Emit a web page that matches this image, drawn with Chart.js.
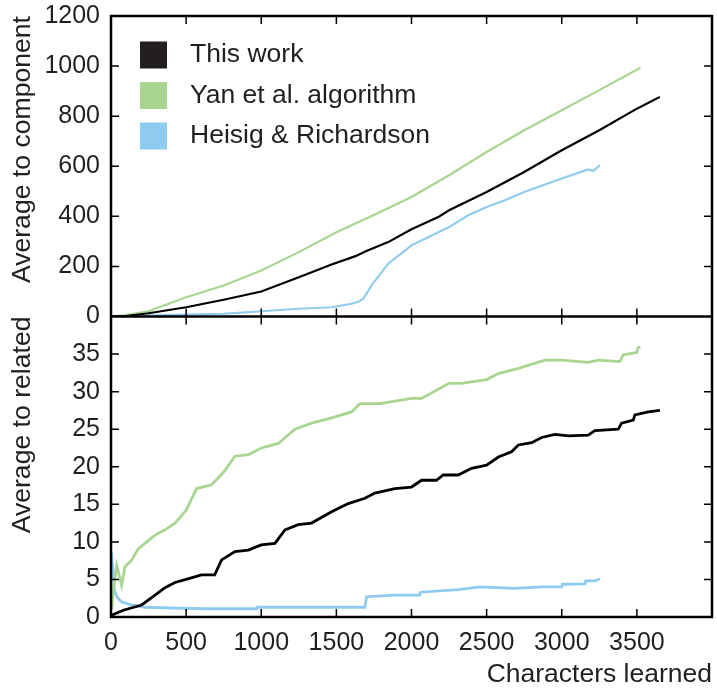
<!DOCTYPE html>
<html>
<head>
<meta charset="utf-8">
<script src="https://cdn.jsdelivr.net/npm/chart.js@4"></script>
<style>
  body { margin: 0; background: #fff; }
</style>
</head>
<body>
<canvas id="chartChars" width="717" height="688"></canvas>
<script>
const seriesNames = ['This work', 'Yan et al. algorithm', 'Heisig & Richardson'];
const seriesColors = ['#000000', '#a8d590', '#8ecbef'];
const legendColors = ['#231f20', '#a8d590', '#8ecbef'];

const xTicks = [0, 500, 1000, 1500, 2000, 2500, 3000, 3500];
const compTicks = [0, 200, 400, 600, 800, 1000, 1200];
const relTicks = [0, 5, 10, 15, 20, 25, 30, 35];

// top panel: average to component
const compWorkX = [0, 100, 250, 500, 750, 1000, 1250, 1468, 1623, 1700, 1845, 2000, 2178, 2250, 2500, 2750, 3000, 3250, 3500, 3653];
const compWorkY = [0, 2, 13, 37, 67, 100, 157, 208, 240, 262, 297, 348, 397, 424, 497, 577, 664, 744, 830, 877];

const compYanX = [0, 100, 250, 500, 750, 1000, 1250, 1500, 1750, 2000, 2250, 2500, 2750, 3000, 3250, 3524];
const compYanY = [0, 6, 21, 77, 124, 184, 257, 336, 405, 477, 564, 657, 744, 824, 904, 993];

const compHeisigX = [0, 250, 500, 750, 1000, 1250, 1468, 1601, 1650, 1680, 1734, 1845, 2000, 2250, 2377, 2500, 2621, 2750, 3000, 3176, 3209, 3254];
const compHeisigY = [0, 4, 8, 11, 21, 31, 37, 51, 60, 72, 124, 211, 284, 357, 404, 437, 464, 497, 551, 587, 581, 604];

// bottom panel: average to related
const relWorkX = [0, 82, 204, 293, 359, 426, 500, 602, 690, 736, 825, 914, 1000, 1091, 1158, 1246, 1335, 1468, 1579, 1690, 1756, 1889, 2000, 2067, 2166, 2211, 2311, 2400, 2500, 2578, 2666, 2711, 2800, 2866, 2955, 3044, 3176, 3221, 3376, 3398, 3476, 3487, 3576, 3653];
const relWorkY = [0.2, 0.9, 1.6, 2.9, 3.9, 4.6, 5.0, 5.6, 5.6, 7.6, 8.7, 8.9, 9.6, 9.8, 11.6, 12.3, 12.5, 14.0, 15.1, 15.8, 16.5, 17.1, 17.3, 18.2, 18.2, 18.9, 18.9, 19.8, 20.2, 21.3, 22.0, 22.9, 23.2, 23.9, 24.3, 24.1, 24.2, 24.8, 25.0, 25.8, 26.2, 26.9, 27.3, 27.5];

const relYanX = [5, 15, 38, 71, 93, 138, 182, 226, 293, 359, 426, 500, 570, 670, 750, 825, 914, 1000, 1113, 1224, 1335, 1468, 1601, 1657, 1790, 2000, 2067, 2250, 2333, 2500, 2578, 2711, 2888, 3000, 3176, 3243, 3387, 3409, 3498, 3509, 3524];
const relYanY = [1.0, 3.6, 6.9, 4.2, 6.7, 7.6, 9.1, 9.8, 10.9, 11.6, 12.5, 14.2, 17.1, 17.6, 19.3, 21.4, 21.6, 22.5, 23.1, 25.0, 25.8, 26.5, 27.3, 28.4, 28.4, 29.1, 29.1, 31.1, 31.1, 31.6, 32.4, 33.1, 34.2, 34.2, 33.9, 34.2, 34.0, 34.9, 35.2, 35.9, 35.9];

const relHeisigX = [3, 22, 38, 71, 138, 226, 404, 626, 970, 975, 1291, 1690, 1701, 1889, 2055, 2060, 2311, 2455, 2688, 2866, 3000, 3005, 3154, 3160, 3221, 3254];
const relHeisigY = [8.7, 3.6, 2.7, 2.0, 1.6, 1.3, 1.2, 1.1, 1.1, 1.3, 1.3, 1.3, 2.7, 2.9, 2.9, 3.3, 3.65, 4.0, 3.8, 4.0, 4.0, 4.36, 4.4, 4.8, 4.8, 5.1];

const FONT = '"Liberation Sans", Arial, sans-serif';
const INK = '#231f20';
const TICK = 8;

function pts(xs, ys) {
  return xs.map((x, i) => ({ x: x, y: ys[i] }));
}

function line(i, xs, ys, axis, width) {
  return {
    label: seriesNames[i],
    data: pts(xs, ys),
    yAxisID: axis,
    borderColor: seriesColors[i],
    borderWidth: width,
    pointRadius: 0,
    tension: 0,
    fill: false
  };
}

function yAxis(ticks, max, title) {
  return {
    type: 'linear',
    position: 'left',
    stack: 'panels',
    stackWeight: 1,
    min: 0,
    max: max,
    afterBuildTicks: s => { s.ticks = ticks.concat(ticks.includes(max) ? [] : [max]).map(v => ({ value: v })); },
    grid: { display: false, drawTicks: false },
    border: { display: false },
    ticks: {
      color: INK,
      font: { family: FONT, size: 25 },
      padding: 11,
      autoSkip: false,
      callback: v => (ticks.includes(v) ? String(v) : '')
    },
    title: {
      display: true,
      text: title,
      align: 'end',
      color: INK,
      font: { family: FONT, size: 26.6, lineHeight: 1 },
      padding: { top: 9.5, bottom: 0 }
    },
    afterFit: s => {
      s.width = 111;
      s.paddingTop = 0;
      s.paddingBottom = 0;
    }
  };
}

// frame, inward ticks on all sides and the legend box
const framePlugin = {
  id: 'frame',
  afterDatasetsDraw(chart) {
    const { ctx, chartArea: a, scales } = chart;
    const yt = scales.y, yb = scales.y2, x = scales.x;
    const mid = yt.bottom;
    ctx.save();
    ctx.strokeStyle = '#000';
    ctx.lineWidth = 1.5;
    ctx.beginPath();
    x.ticks.forEach(t => {
      const px = x.getPixelForValue(t.value);
      if (px <= a.left + 1 || px >= a.right - 1) return;
      ctx.moveTo(px, a.top); ctx.lineTo(px, a.top + TICK);
      ctx.moveTo(px, mid - TICK); ctx.lineTo(px, mid + TICK);
      ctx.moveTo(px, a.bottom); ctx.lineTo(px, a.bottom - TICK);
    });
    [yt, yb].forEach(s => s.ticks.forEach(t => {
      const py = s.getPixelForValue(t.value);
      if (py <= s.top + 1 || py >= s.bottom - 1) return;
      ctx.moveTo(a.left, py); ctx.lineTo(a.left + TICK, py);
      ctx.moveTo(a.right, py); ctx.lineTo(a.right - TICK, py);
    }));
    ctx.stroke();

    ctx.lineWidth = 2.5;
    ctx.strokeRect(a.left, a.top, a.right - a.left, a.bottom - a.top);
    ctx.beginPath();
    ctx.moveTo(a.left, mid);
    ctx.lineTo(a.right, mid);
    ctx.stroke();

    // legend
    ctx.font = '26.5px ' + FONT;
    ctx.textBaseline = 'middle';
    ctx.textAlign = 'left';
    for (let i = 0; i < 3; i++) {
      const cy = a.top + 39 + i * 40.5;
      ctx.fillStyle = legendColors[i];
      ctx.fillRect(a.left + 29, cy - 13.5, 27, 27);
      ctx.fillStyle = INK;
      ctx.fillText(chart.data.datasets[i].label, a.left + 79, cy);
    }
    ctx.restore();
  }
};

new Chart(document.getElementById('chartChars'), {
  type: 'line',
  data: {
    datasets: [
      line(0, compWorkX, compWorkY, 'y', 2.2),
      line(1, compYanX, compYanY, 'y', 2.2),
      line(2, compHeisigX, compHeisigY, 'y', 2.2),
      line(0, relWorkX, relWorkY, 'y2', 2.8),
      line(1, relYanX, relYanY, 'y2', 2.8),
      line(2, relHeisigX, relHeisigY, 'y2', 2.8)
    ]
  },
  options: {
    responsive: false,
    animation: false,
    devicePixelRatio: 1,
    layout: { padding: { top: 16, right: 5, left: 0, bottom: 0 } },
    plugins: { legend: { display: false }, tooltip: { enabled: false } },
    scales: {
      x: {
        type: 'linear',
        min: 0,
        max: 4000,
        afterBuildTicks: s => { s.ticks = xTicks.concat([4000]).map(v => ({ value: v })); },
        grid: { display: false, drawTicks: false },
        border: { display: false },
        ticks: {
          color: INK,
          font: { family: FONT, size: 25 },
          padding: 11,
          maxRotation: 0,
          autoSkip: false,
          callback: v => (xTicks.includes(v) ? String(v) : '')
        },
        title: {
          display: true,
          text: 'Characters learned',
          align: 'end',
          color: INK,
          font: { family: FONT, size: 26.5, lineHeight: 1 },
          padding: { top: 0, bottom: 0 }
        },
        afterFit: s => {
          s.height = 71;
          s.paddingLeft = 0;
          s.paddingRight = 0;
        }
      },
      // the first axis of the stack is laid out at the bottom
      y2: yAxis(relTicks, 40, 'Average to related'),
      y: yAxis(compTicks, 1200, 'Average to component')
    }
  },
  plugins: [framePlugin]
});
</script>
</body>
</html>
